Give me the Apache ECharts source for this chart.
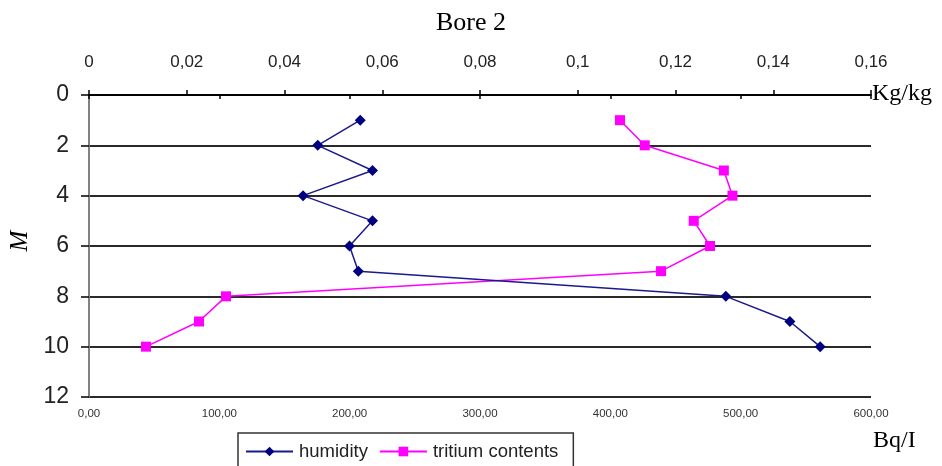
<!DOCTYPE html>
<html>
<head>
<meta charset="utf-8">
<title>Bore 2</title>
<script src="https://cdn.jsdelivr.net/npm/echarts@6/dist/echarts.min.js"></script>
<style>
  html, body { margin: 0; padding: 0; background: #fff; }
  #chart { width: 942px; height: 466px; }
</style>
</head>
<body>
<div id="chart"></div>
<script>
// Depth below surface, m
const depths = [1, 2, 3, 4, 5, 6, 7, 8, 9, 10];
// Humidity, kg/kg (upper axis)
const humidity = [0.0555, 0.0468, 0.0580, 0.0438, 0.0580, 0.0533, 0.0551, 0.1303, 0.1434, 0.1496];
// Tritium contents, Bq/l (lower axis)
const tritium = [407.4, 426.4, 487.1, 493.7, 464.0, 476.5, 438.9, 105.1, 84.4, 43.7];

const sans = "'Liberation Sans', Arial, sans-serif";
const serif = "'Liberation Serif', 'Times New Roman', serif";

const chart = echarts.init(document.getElementById('chart'), null, { renderer: 'canvas' });

const pairs = (xs) => xs.map((v, i) => [v, depths[i]]);
const comma = (s) => String(s).replace('.', ',');

chart.setOption({
  animation: false,
  backgroundColor: '#ffffff',
  title: {
    text: 'Bore 2',
    left: 'center',
    top: 5,
    textStyle: { fontFamily: serif, fontSize: 26, fontWeight: 'normal', color: '#000' }
  },
  grid: { left: 89, right: 71, top: 95, bottom: 69, containLabel: false },
  legend: {
    left: 238,
    top: 433,
    padding: [9, 15, 10, 7],
    itemGap: 11,
    itemWidth: 47,
    itemHeight: 12,
    borderColor: '#333',
    borderWidth: 1.5,
    borderRadius: 0,
    textStyle: { fontFamily: sans, fontSize: 18.5, color: '#222', padding: [0, 0, 0, 1] },
    data: ['humidity', 'tritium contents']
  },
  xAxis: [
    {
      type: 'value',
      position: 'bottom',
      min: 0, max: 600, interval: 100,
      axisLine: { show: true, lineStyle: { color: '#000', width: 1.5 } },
      axisTick: { show: true, length: 4, lineStyle: { color: '#000', width: 1.5 } },
      axisLabel: {
        margin: 11,
        fontFamily: sans, fontSize: 11.5, color: '#333',
        formatter: (v) => comma(v.toFixed(2))
      },
      splitLine: { show: false }
    },
    {
      type: 'value',
      position: 'top',
      min: 0, max: 0.16, interval: 0.02,
      axisLine: { show: true, lineStyle: { color: '#000', width: 1.5 } },
      axisTick: { show: true, length: 5, lineStyle: { color: '#000', width: 1.5 } },
      axisLabel: {
        margin: 24,
        fontFamily: sans, fontSize: 17, color: '#222',
        formatter: (v) => comma(parseFloat(v.toFixed(2)))
      },
      splitLine: { show: false }
    }
  ],
  yAxis: [
    {
      type: 'value',
      inverse: true,
      min: 0, max: 12, interval: 2,
      axisLine: { show: true, lineStyle: { color: '#000', width: 1.5 } },
      axisTick: { show: true, length: 8, lineStyle: { color: '#000', width: 1.5 } },
      axisLabel: { margin: 20, fontFamily: sans, fontSize: 23, color: '#222' },
      splitLine: { show: true, lineStyle: { color: '#2a2a2a', width: 2 } }
    },
    {
      type: 'value',
      inverse: true,
      position: 'right',
      min: 0, max: 12, interval: 2,
      axisLine: { show: true, lineStyle: { color: '#999', width: 1.5 } },
      axisTick: { show: false },
      axisLabel: { show: false },
      splitLine: { show: false }
    }
  ],
  series: [
    {
      name: 'humidity',
      type: 'line',
      xAxisIndex: 1,
      yAxisIndex: 0,
      data: pairs(humidity),
      symbol: 'diamond',
      symbolSize: 11,
      itemStyle: { color: '#000080' },
      lineStyle: { color: '#1a1a8c', width: 1.5 },
      z: 3
    },
    {
      name: 'tritium contents',
      type: 'line',
      xAxisIndex: 0,
      yAxisIndex: 0,
      data: pairs(tritium),
      symbol: 'rect',
      symbolSize: 10,
      itemStyle: { color: '#ff00ff' },
      lineStyle: { color: '#ff00ff', width: 1.5 },
      z: 2
    }
  ],
  graphic: [
    {
      type: 'text', left: 872, top: 82,
      style: { text: 'Kg/kg', fontFamily: serif, fontSize: 24, fill: '#000' }
    },
    {
      type: 'text', left: 873, top: 429,
      style: { text: 'Bq/I', fontFamily: serif, fontSize: 24, fill: '#000' }
    },
    {
      type: 'text', x: 20, y: 241, rotation: Math.PI / 2,
      style: {
        text: 'M', fontFamily: serif, fontSize: 25, fontStyle: 'italic', fill: '#000',
        align: 'center', verticalAlign: 'middle'
      }
    }
  ]
});
</script>
</body>
</html>
